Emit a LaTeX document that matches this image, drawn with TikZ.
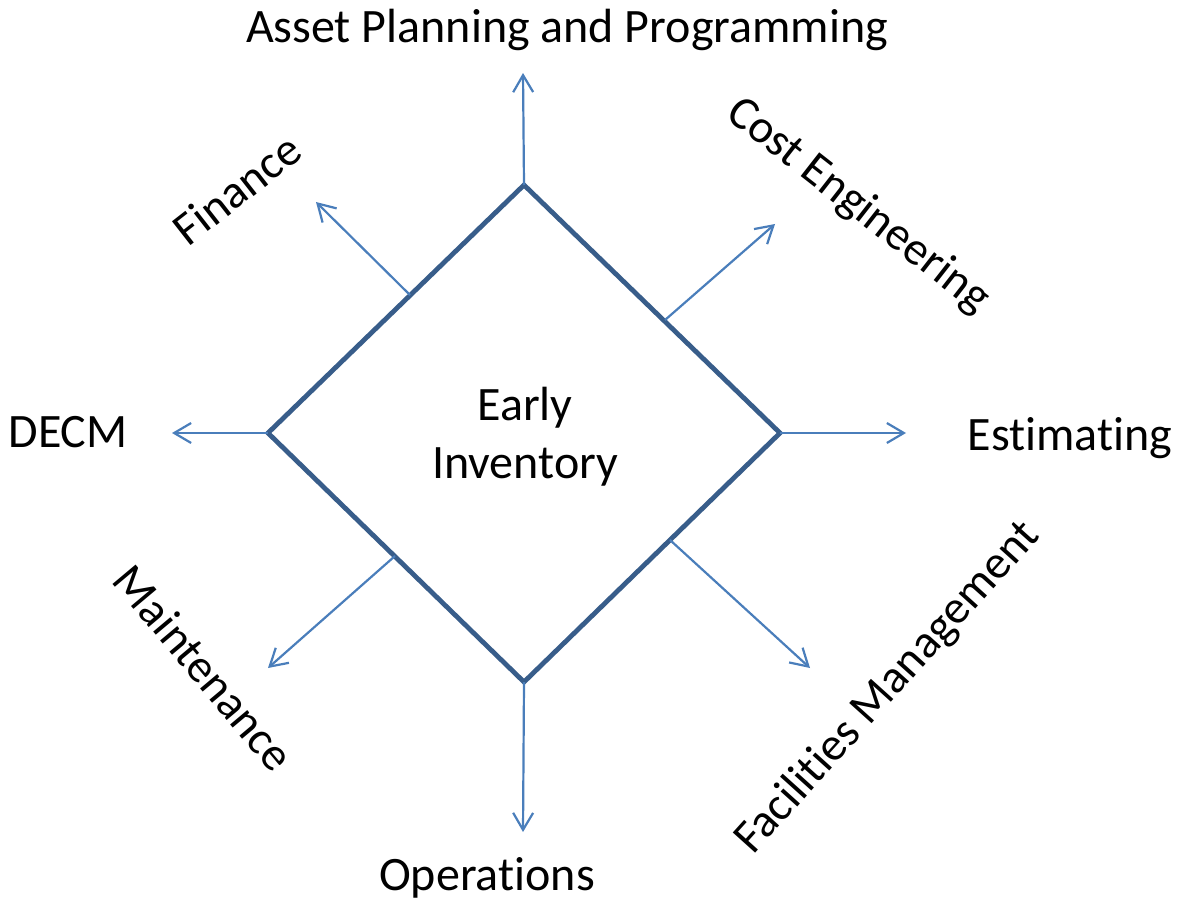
\documentclass[tikz,border=0pt]{standalone}
\usepackage{fontspec}
\setmainfont{Carlito}[RawFeature={-liga;-clig;-dlig;-calt;-rlig}]
\usetikzlibrary{arrows.meta}
\definecolor{diamondc}{HTML}{385D8A}
\definecolor{arrowc}{HTML}{4A7EBB}
\tikzset{
  diamondline/.style={draw=diamondc, line width=4.8pt, line join=miter},
  outarrow/.style={draw=arrowc, line width=2.2pt, -{Straight Barb[length=17pt,width=20pt,line width=2.2pt]}},
  lbl/.style={inner sep=0pt, font=\fontsize{48}{58}\selectfont},
  rlbl/.style={inner sep=0pt, font=\fontsize{47}{56}\selectfont},
}
\begin{document}
\begin{tikzpicture}[x=1pt,y=-1pt]
\useasboundingbox (0,0) rectangle (1180,901);
% diamond vertices
\coordinate (T) at (524,185);
\coordinate (R) at (780,433);
\coordinate (B) at (524,682);
\coordinate (L) at (268,433);
\draw[diamondline] (T) -- (R) -- (B) -- (L) -- cycle;
% arrow start points on edges
\coordinate (sTL) at (410,295);
\coordinate (sTR) at (665,320);
\coordinate (sBL) at (395,556);
\coordinate (sBR) at (670,540);
% arrow end points
\coordinate (eT) at (523,73);
\coordinate (eTL) at (316,202);
\coordinate (eTR) at (775,224);
\coordinate (eL) at (172,433);
\coordinate (eR) at (906,433);
\coordinate (eBL) at (268,668);
\coordinate (eBR) at (810,668);
\coordinate (eB) at (523,832);
\draw[outarrow] (T) -- (eT);
\draw[outarrow] (sTL) -- (eTL);
\draw[outarrow] (sTR) -- (eTR);
\draw[outarrow] (L) -- (eL);
\draw[outarrow] (R) -- (eR);
\draw[outarrow] (sBL) -- (eBL);
\draw[outarrow] (sBR) -- (eBR);
\draw[outarrow] (B) -- (eB);
% labels
\node[lbl, align=center] (center) at (525,437) {Early\\Inventory};
\node[lbl] (asset) at (567,30) {Asset Planning and Programming};
\node[rlbl, rotate=38] (finance) at (237,189) {Finance};
\node[rlbl, rotate=-38] (cost) at (858,206) {Cost Engineering};
\node[lbl] (decm) at (68,432) {DECM};
\node[lbl] (estim) at (1070,438) {Estimating};
\node[rlbl, rotate=-50] (maint) at (204,668) {Maintenance};
\node[rlbl, rotate=48] (facil) at (888,688) {Facilities Management};
\node[lbl] (oper) at (487,878) {Operations};
\end{tikzpicture}
\end{document}
